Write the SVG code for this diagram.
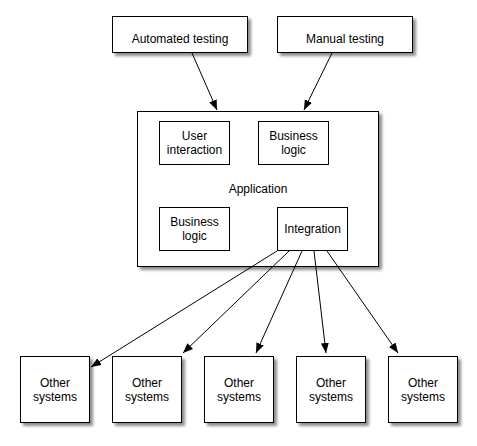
<svg xmlns="http://www.w3.org/2000/svg" width="477" height="446" viewBox="0 0 477 446">
<defs>
<filter id="sh" x="-20%" y="-20%" width="150%" height="150%">
<feGaussianBlur in="SourceAlpha" stdDeviation="1.5"/>
<feOffset dx="3" dy="3" result="b"/>
<feComponentTransfer><feFuncA type="linear" slope="0.45"/></feComponentTransfer>
<feMerge><feMergeNode/><feMergeNode in="SourceGraphic"/></feMerge>
</filter>
<marker id="ah" viewBox="0 0 10 10" refX="10" refY="5" markerWidth="10" markerHeight="10" markerUnits="userSpaceOnUse" orient="auto">
<path d="M0,1 L10,5 L0,9 Z" fill="#000"/>
</marker>
</defs>
<style>
.box{fill:#fff;stroke:#000;stroke-width:1}
.sb{filter:url(#sh)}
text{font-family:"Liberation Sans",Arial,sans-serif;font-size:12px;fill:#000;text-anchor:middle}
.c{fill:none;stroke:#000;stroke-width:1;marker-end:url(#ah)}
</style>
<rect width="477" height="446" fill="#fff"/>
<g id="automated"><rect class="box sb" x="112.5" y="16.5" width="135" height="36"/><text x="180" y="43">Automated testing</text></g>
<g id="manual"><rect class="box sb" x="277.5" y="16.5" width="135" height="36"/><text x="345" y="43">Manual testing</text></g>
<g id="application"><rect class="box sb" x="137.5" y="111.5" width="241" height="155"/><text x="258" y="193">Application</text></g>
<g id="user-interaction"><rect class="box" x="159.5" y="121.5" width="70" height="43"/><text x="194.5" y="140">User</text><text x="194.5" y="154">interaction</text></g>
<g id="business-logic-1"><rect class="box" x="258.5" y="121.5" width="70" height="43"/><text x="293.5" y="140">Business</text><text x="293.5" y="154">logic</text></g>
<g id="business-logic-2"><rect class="box" x="159.5" y="207.5" width="70" height="43"/><text x="194.5" y="226">Business</text><text x="194.5" y="240">logic</text></g>
<g id="integration"><rect class="box" x="277.5" y="207.5" width="70" height="43"/><text x="312.5" y="233">Integration</text></g>
<g id="other-1"><rect class="box sb" x="20.5" y="356.5" width="69" height="66"/><text x="55" y="387">Other</text><text x="55" y="401">systems</text></g>
<g id="other-2"><rect class="box sb" x="112.5" y="356.5" width="69" height="66"/><text x="147" y="387">Other</text><text x="147" y="401">systems</text></g>
<g id="other-3"><rect class="box sb" x="204.5" y="356.5" width="69" height="66"/><text x="239" y="387">Other</text><text x="239" y="401">systems</text></g>
<g id="other-4"><rect class="box sb" x="296.5" y="356.5" width="69" height="66"/><text x="331" y="387">Other</text><text x="331" y="401">systems</text></g>
<g id="other-5"><rect class="box sb" x="388.5" y="356.5" width="69" height="66"/><text x="423" y="387">Other</text><text x="423" y="401">systems</text></g>
<g id="connectors">
<line class="c" x1="192" y1="53" x2="217" y2="110"/>
<line class="c" x1="332" y1="53" x2="304" y2="110"/>
<line class="c" x1="277" y1="251" x2="91" y2="367"/>
<line class="c" x1="289" y1="251" x2="183" y2="353"/>
<line class="c" x1="302" y1="251" x2="256" y2="353"/>
<line class="c" x1="314" y1="251" x2="326" y2="353"/>
<line class="c" x1="327" y1="251" x2="398" y2="353"/>
</g>
</svg>
